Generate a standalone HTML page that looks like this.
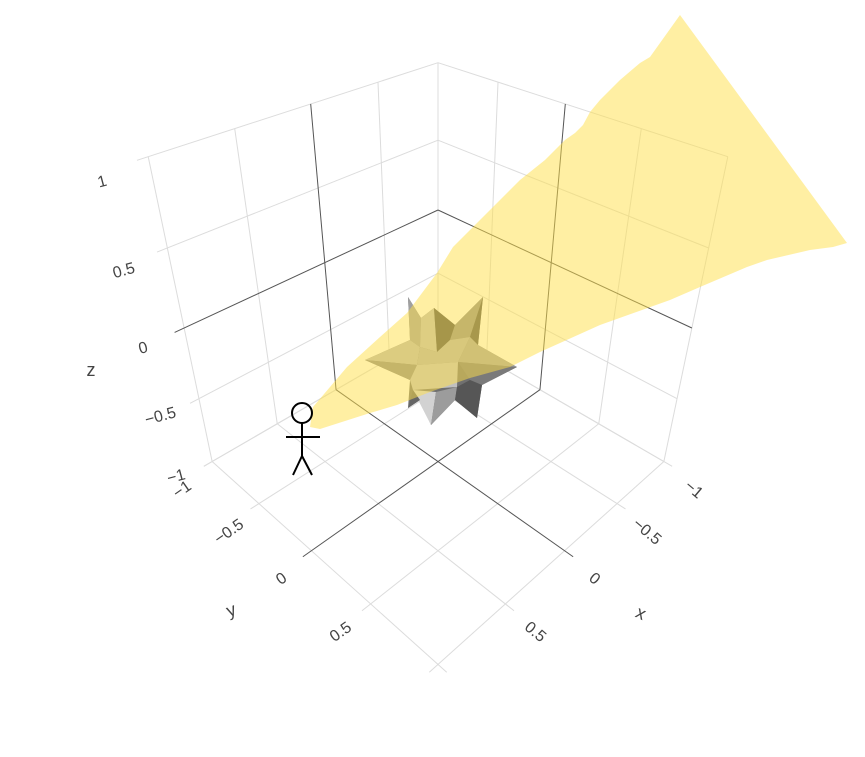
<!DOCTYPE html>
<html><head><meta charset="utf-8"><style>
html,body{margin:0;padding:0;background:#fff;}
svg{display:block;font-family:"Liberation Sans",sans-serif;}
</style></head><body>
<svg id="chart" width="865" height="757" viewBox="0 0 865 757" xmlns="http://www.w3.org/2000/svg">
<g id="grid"></g>
<g id="star">
<polygon points="408,297 421,318 434,308 455,325 483,297 478,345 517,367 482,385 477,418 455,400 431,425 420,400 408,408 410,380 365,360 410,340" fill="#707070"/>
<polygon points="408,297 421,318 420,347 410,340" fill="#a0a0a0"/>
<polygon points="365,360 410,340 420,347 417,365" fill="#b8b8b8"/>
<polygon points="365,360 417,365 410,380" fill="#8a8a8a"/>
<polygon points="434,308 421,318 420,347 437,352" fill="#bcbcbc"/>
<polygon points="434,308 437,352 450,340 455,325" fill="#4c4c4c"/>
<polygon points="483,297 455,325 450,340 470,337" fill="#8c8c8c"/>
<polygon points="483,297 470,337 478,345" fill="#505050"/>
<polygon points="517,367 478,345 470,337 458,362" fill="#a2a2a2"/>
<polygon points="517,367 458,362 470,380 482,385" fill="#7a7a7a"/>
<polygon points="420,347 437,352 450,340 470,337 458,362 417,365" fill="#b0b0b0"/>
<polygon points="417,365 458,362 457,387 413,390 410,380" fill="#c0c0c0"/>
<polygon points="431,425 413,390 436,392" fill="#d2d2d2"/>
<polygon points="431,425 436,392 457,387 455,400" fill="#9c9c9c"/>
<polygon points="408,408 413,390 420,400" fill="#666"/>
<polygon points="477,418 455,400 457,387 470,380 482,385" fill="#565656"/>
</g>
<polygon id="surface" fill="rgb(255,224,72)" fill-opacity="0.5"
points="680,15 847,243 833,247 810,250 767,260 747,267 700,287 670,300 600,325 540,352 510,367 470,378 430,392 397,405 370,413 320,429 310,427 313,407 347,367 380,337 407,313 437,273 453,247 480,220 520,180 545,160 565,140 575,133 583,125 590,112 600,100 620,80 640,63 650,57 655,50"/>
<g id="stick" stroke="#000" stroke-width="2" fill="none">
<circle cx="302" cy="413" r="10" fill="none"/>
<line x1="302" y1="423" x2="302" y2="456"/>
<line x1="286" y1="437" x2="320" y2="437"/>
<line x1="302" y1="456" x2="293" y2="475"/>
<line x1="302" y1="456" x2="312" y2="475"/>
</g>
<g id="labels" fill="#444" font-size="16"></g>
<text x="91" y="376" font-size="18" fill="#444" text-anchor="middle">z</text>
<text x="231" y="616" font-size="18" fill="#444" text-anchor="middle" transform="rotate(-20 231 610)">y</text>
<text x="641" y="619" font-size="18" fill="#444" text-anchor="middle" transform="rotate(25 641 613)">x</text>
</svg>
<script>
const xTicks=[-1,-0.5,0,0.5,1];
const yTicks=[-1,-0.5,0,0.5,1];
const zTicks=[-1,-0.5,0,0.5,1];
const xTickLabels=["−1","−0.5","0","0.5",""];
const yTickLabels=["−1","−0.5","0","0.5",""];
const zTickLabels=["−1","−0.5","0","0.5","1"];

const E=2.753,F=856,C=1.024,CX=438,CY=328;
function proj(x,y,z){
  const Z=z*C;
  const r=(-x+y)/Math.SQRT2, v=(-x-y+2*Z)/Math.sqrt(6), s=(x+y+Z)/Math.sqrt(3);
  const D=E*Math.sqrt(3)-s;
  return [CX+F*r/D, CY-F*v/D];
}
const NS="http://www.w3.org/2000/svg";
const grid=document.getElementById('grid');
function line(a,b,zero,name){
  const p=proj(...a),q=proj(...b);
  const l=document.createElementNS(NS,'line');
  l.setAttribute('x1',p[0]);l.setAttribute('y1',p[1]);l.setAttribute('x2',q[0]);l.setAttribute('y2',q[1]);
  l.setAttribute('stroke',zero?'#555':'#dcdcdc');l.setAttribute('stroke-width','1');
  
  
  grid.appendChild(l);
}
const ext=1.06;
[false,true].forEach(z0=>{
  xTicks.forEach(x=>{ if((x===0)!==z0) return;
    line([x,-1,-1],[x,-1,1],x===0,'x-gridline-wall');
    line([x,-1,-1],[x,ext,-1],x===0,'x-gridline-floor');
  });
  yTicks.forEach(y=>{ if((y===0)!==z0) return;
    line([-1,y,-1],[-1,y,1],y===0,'y-gridline-wall');
    line([-1,y,-1],[ext,y,-1],y===0,'y-gridline-floor');
  });
  zTicks.forEach(z=>{ if((z===0)!==z0) return;
    line([ext,-1,z],[-1,-1,z],z===0,'z-gridline-wall-left');
    line([-1,-1,z],[-1,1,z],z===0,'z-gridline-wall-right');
  });
});
const lab=document.getElementById('labels');
function text(t,x,y,rot,name){
  const e=document.createElementNS(NS,'text');
  e.textContent=t;e.setAttribute('x',x);e.setAttribute('y',y+5);
  e.setAttribute('text-anchor','middle');
  e.setAttribute('transform','rotate('+rot+' '+x+' '+y+')');
  
  
  lab.appendChild(e);
}
xTicks.forEach((x,i)=>{const p=proj(x,1,-1);text(xTickLabels[i],p[0]+30,p[1]+28,40,'x-tick-label');});
yTicks.forEach((y,i)=>{const p=proj(1,y,-1);text(yTickLabels[i],p[0]-30,p[1]+28,-35,'y-tick-label');});
zTicks.forEach((z,i)=>{const p=proj(1,-1,z);text(zTickLabels[i],p[0]-41-5*z,p[1]+20+5*z,-15,'z-tick-label');});
</script>
</body></html>
